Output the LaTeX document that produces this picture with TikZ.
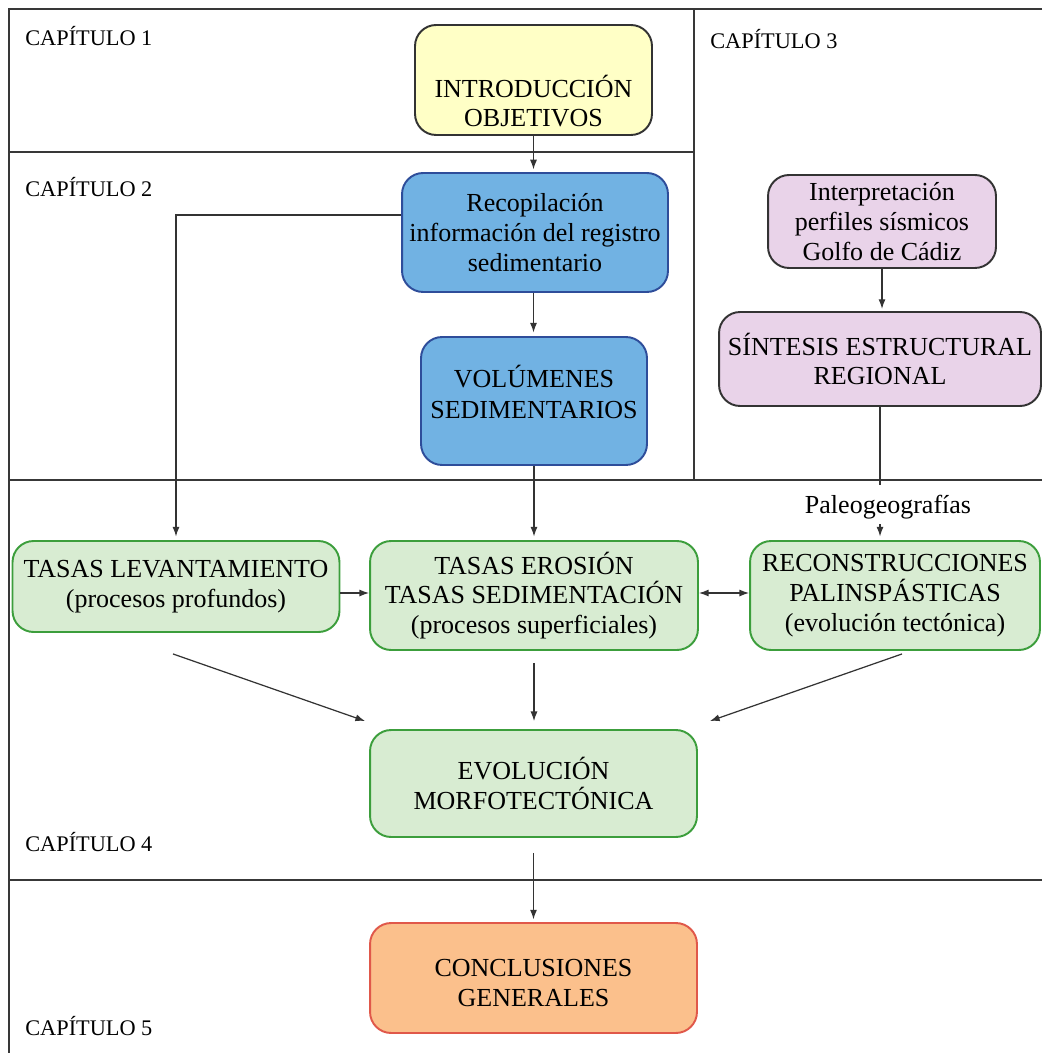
\documentclass[tikz,border=0pt]{standalone}
\usepackage{fontspec}
\setmainfont{Liberation Serif}
\usetikzlibrary{arrows.meta,calc}
\definecolor{yel}{HTML}{FFFFC6}
\definecolor{blu}{HTML}{71B2E3}
\definecolor{bluline}{HTML}{2E4D9A}
\definecolor{pnk}{HTML}{E9D3E9}
\definecolor{grn}{HTML}{D8ECD2}
\definecolor{grnline}{HTML}{3C9E3C}
\definecolor{org}{HTML}{FBC08C}
\definecolor{orgline}{HTML}{E0584A}
\definecolor{ink}{HTML}{333333}
\begin{document}
\begin{tikzpicture}[x=0.02cm,y=-0.02cm,
  frameline/.style={line width=1.3pt,draw=black!78},
  boxbase/.style={rounded corners=12pt,line width=1.1pt,align=center,inner sep=0pt,
     font=\fontsize{14.8pt}{17pt}\selectfont},
  txtstyle/.style={align=center,inner sep=0pt,font=\fontsize{14.8pt}{17pt}\selectfont},
  chapstyle/.style={anchor=base west,inner sep=0pt,font=\fontsize{12.7pt}{15pt}\selectfont},
  yelbox/.style={boxbase,draw=ink,fill=yel},
  blubox/.style={boxbase,draw=bluline,fill=blu},
  pnkbox/.style={boxbase,draw=ink,fill=pnk},
  grnbox/.style={boxbase,draw=grnline,fill=grn},
  orgbox/.style={boxbase,draw=orgline,fill=org},
  tip/.tip={Latex[length=5.5pt,width=4pt]},
  arrow1/.style={draw=ink,line width=0.7pt,-tip},
  plainline/.style={draw=ink,line width=0.7pt},
  ]
\useasboundingbox (0,0) rectangle (1042,1053);

% frame
\draw[frameline] (1042,9) -- (9,9) -- (9,1053);
\draw[frameline] (9,152) -- (694,152);
\draw[frameline] (694,9) -- (694,480);
\draw[frameline] (9,480) -- (1042,480);
\draw[frameline] (9,880) -- (1042,880);

% chapter labels
\node[chapstyle] (c1) at (25,46) {CAPÍTULO 1};
\node[chapstyle] (c2) at (25,197) {CAPÍTULO 2};
\node[chapstyle] (c3) at (710,49) {CAPÍTULO 3};
\node[chapstyle] (c4) at (25,851) {CAPÍTULO 4};
\node[chapstyle] (c5) at (25,1035) {CAPÍTULO 5};

% boxes
\node[yelbox,minimum width=4.74cm,minimum height=2.2cm] (intro) at (533.5,80) {};
\node[txtstyle] (tintro) at (533.5,101) {INTRODUCCIÓN\\OBJETIVOS};

\node[blubox,minimum width=5.32cm,minimum height=2.38cm] (recop) at (535,232.5)
  {Recopilación\\información del registro\\sedimentario};

\node[blubox,minimum width=4.52cm,minimum height=2.56cm] (vol) at (534,401) {};
\node[txtstyle,font=\fontsize{14.8pt}{18pt}\selectfont] (tvol) at (534,392) {VOLÚMENES\\SEDIMENTARIOS};

\node[pnkbox,minimum width=4.56cm,minimum height=1.86cm] (interp) at (882,221.5)
  {Interpretación\\perfiles sísmicos\\Golfo de Cádiz};

\node[pnkbox,minimum width=6.44cm,minimum height=1.88cm] (sint) at (880,359)
  {SÍNTESIS ESTRUCTURAL\\REGIONAL};

\node[grnbox,minimum width=6.54cm,minimum height=1.82cm] (lev) at (176,586.5)
  {TASAS LEVANTAMIENTO\\(procesos profundos)};

\node[grnbox,minimum width=6.56cm,minimum height=2.18cm] (eros) at (534,595.5)
  {TASAS EROSIÓN\\TASAS SEDIMENTACIÓN\\(procesos superficiales)};

\node[grnbox,minimum width=5.8cm,minimum height=2.18cm] (recon) at (895,595.5)
  {RECONSTRUCCIONES\\PALINSPÁSTICAS\\(evolución tectónica)};

\node[grnbox,minimum width=6.54cm,minimum height=2.14cm] (evol) at (533.5,783.5)
  {EVOLUCIÓN\\MORFOTECTÓNICA};

\node[orgbox,minimum width=6.54cm,minimum height=2.2cm] (concl) at (533.5,978) {};
\node[txtstyle,font=\fontsize{14.8pt}{17.5pt}\selectfont] (tconcl) at (533.5,983) {CONCLUSIONES\\GENERALES};

\node[txtstyle,anchor=base] (paleo) at (888,513) {Paleogeografías};

% connectors
\draw[arrow1,shorten >=1.5pt] (intro.south) -- (intro.south |- recop.north);
\draw[arrow1,shorten >=2pt] (recop.south -| intro.south) -- (vol.north -| intro.south);
\draw[arrow1,shorten >=2pt] (vol.south) -- (vol.south |- eros.north);
\draw[arrow1,shorten >=2pt] ([yshift=0.35cm]recop.west) -| (lev.north);
\draw[arrow1,shorten >=1.2pt] (interp.south) -- (interp.south |- sint.north);
\draw[plainline,shorten >=5.5pt] (sint.south) -- (sint.south |- paleo.north);
\draw[arrow1,shorten <=3pt,shorten >=2pt] (paleo.south -| sint.south) -- (recon.north -| sint.south);
\draw[arrow1] (lev.east |- 0,593) -- (eros.west |- 0,593);
\draw[draw=ink,line width=0.7pt,tip-tip] (eros.east |- 0,593) -- (recon.west |- 0,593);

\coordinate (d1s) at ($(lev.south)+(-3,21)$);
\coordinate (d1e) at ($(evol.north west)+(-4,-8)$);
\coordinate (d3s) at ($(recon.south)+(7,3)$);
\coordinate (d3e) at ($(evol.north east)+(12,-8)$);
\draw[arrow1] (d1s) -- (d1e);
\draw[arrow1] (d3s) -- (d3e);
\draw[arrow1,shorten <=6.8pt,shorten >=4.5pt] (eros.south) -- (eros.south |- evol.north);
\draw[arrow1,shorten <=8.5pt,shorten >=1.5pt] (evol.south) -- (evol.south |- concl.north);
\end{tikzpicture}
\end{document}
